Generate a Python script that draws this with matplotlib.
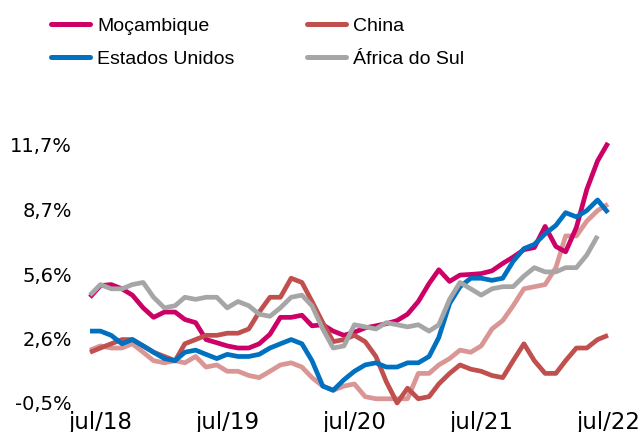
import matplotlib
matplotlib.use('Agg')
import matplotlib.pyplot as plt
from matplotlib.lines import Line2D
import numpy as np
import pandas as pd

# ---- dados (inflação homóloga, %), jun/18 a jul/22 ----
meses = pd.date_range('2018-06-01', periods=50, freq='MS')

mocambique = [4.5, 5.05, 5.1, 4.9, 4.6, 4.0, 3.55, 3.8, 3.8, 3.45, 3.3, 2.5, 2.35, 2.2, 2.1, 2.1,
              2.3, 2.75, 3.55, 3.55, 3.65, 3.15, 3.2, 2.9, 2.7, 2.85, 3.05, 3.15, 3.25, 3.4, 3.7,
              4.3, 5.15, 5.8, 5.25, 5.55, 5.58, 5.62, 5.75, 6.1, 6.4, 6.75, 6.85, 7.85, 6.9, 6.65,
              7.8, 9.6, 10.95, 11.8]
china = [1.9, 2.1, 2.3, 2.5, 2.5, 2.2, 1.9, 1.7, 1.5, 2.3, 2.5, 2.7, 2.7, 2.8, 2.8, 3.0, 3.8,
         4.5, 4.5, 5.4, 5.2, 4.3, 3.3, 2.4, 2.5, 2.7, 2.4, 1.7, 0.5, -0.5, 0.2, -0.3, -0.2, 0.4,
         0.9, 1.3, 1.1, 1.0, 0.8, 0.7, 1.5, 2.3, 1.5, 0.9, 0.9, 1.5, 2.1, 2.1, 2.5, 2.7]
eua = [2.9, 2.9, 2.7, 2.3, 2.5, 2.2, 1.9, 1.6, 1.5, 1.9, 2.0, 1.8, 1.6, 1.8, 1.7, 1.7, 1.8, 2.1,
       2.3, 2.5, 2.3, 1.5, 0.3, 0.1, 0.6, 1.0, 1.3, 1.4, 1.2, 1.2, 1.4, 1.4, 1.7, 2.6, 4.2, 5.0,
       5.4, 5.4, 5.3, 5.4, 6.2, 6.8, 7.0, 7.5, 7.9, 8.5, 8.3, 8.6, 9.1, 8.5]
africa_sul = [4.6, 5.1, 4.9, 4.9, 5.1, 5.2, 4.5, 4.0, 4.1, 4.5, 4.4, 4.5, 4.5, 4.0, 4.3, 4.1,
              3.7, 3.6, 4.0, 4.5, 4.6, 4.1, 3.0, 2.1, 2.2, 3.2, 3.1, 3.0, 3.3, 3.2, 3.1, 3.2,
              2.9, 3.2, 4.4, 5.2, 4.9, 4.6, 4.9, 5.0, 5.0, 5.5, 5.9, 5.7, 5.7, 5.9, 5.9, 6.5,
              7.4, np.nan]
zona_euro = [2.0, 2.2, 2.1, 2.1, 2.3, 1.9, 1.5, 1.4, 1.5, 1.4, 1.7, 1.2, 1.3, 1.0, 1.0, 0.8,
             0.7, 1.0, 1.3, 1.4, 1.2, 0.7, 0.3, 0.1, 0.3, 0.4, -0.2, -0.3, -0.3, -0.3, -0.3,
             0.9, 0.9, 1.3, 1.6, 2.0, 1.9, 2.2, 3.0, 3.4, 4.1, 4.9, 5.0, 5.1, 5.9, 7.4, 7.4,
             8.1, 8.6, 8.9]

y_ticks = [-0.5, 2.55, 5.6, 8.65, 11.7]
y_labels = ['-0,5%', '2,6%', '5,6%', '8,7%', '11,7%']
x_ticks = pd.to_datetime(['2018-07-01', '2019-07-01', '2020-07-01', '2021-07-01', '2022-07-01'])
x_labels = ['jul/18', 'jul/19', 'jul/20', 'jul/21', 'jul/22']

cores = {'Moçambique': '#CC0066', 'China': '#C0504D', 'Estados Unidos': '#0070C0',
         'África do Sul': '#A6A6A6', 'Zona Euro': '#D99694'}

W, H = 644, 432

# ---- figura ----
fig = plt.figure(figsize=(W / 100, H / 100), dpi=100)
ax = fig.add_axes([90 / W, 1 - 403 / H, (608 - 90) / W, (403 - 145) / H])

lw = 3.4
kw = dict(lw=lw, clip_on=False, solid_joinstyle='round', solid_capstyle='butt')
ax.plot(meses, zona_euro, color=cores['Zona Euro'], zorder=2, **kw)
ax.plot(meses, mocambique, color=cores['Moçambique'], zorder=3, **kw)
ax.plot(meses, china, color=cores['China'], zorder=3, **kw)
ax.plot(meses, eua, color=cores['Estados Unidos'], zorder=4, **kw)
ax.plot(meses, africa_sul, color=cores['África do Sul'], zorder=4, **kw)

ax.set_xlim(meses[0], meses[-1])
ax.set_ylim(-0.5, 11.7)
ax.set_yticks(y_ticks)
ax.set_yticklabels(y_labels, fontsize=14, family='DejaVu Sans')
ax.set_xticks(x_ticks)
ax.set_xticklabels(x_labels, fontsize=16.5, family='DejaVu Sans')
ax.tick_params(axis='both', length=0)
ax.tick_params(axis='y', pad=13)
ax.tick_params(axis='x', pad=6)
for s in ax.spines.values():
    s.set_visible(False)

# ---- legenda (posição manual, como no original) ----
entradas = [('Moçambique', 50.5, 23.5), ('China', 306.5, 23.5),
            ('Estados Unidos', 50.5, 57), ('África do Sul', 306.5, 57)]
for nome, x0, yc in entradas:
    fig.add_artist(Line2D([x0 / W, (x0 + 39) / W], [1 - yc / H, 1 - yc / H],
                          transform=fig.transFigure, color=cores[nome], lw=3.6,
                          solid_capstyle='round'))
    fig.text((x0 + 46.5) / W, 1 - (yc + 7.5) / H, nome, ha='left', va='baseline',
             fontsize=14, family='Liberation Sans', color='black')

fig.savefig('out.png', dpi=100)
